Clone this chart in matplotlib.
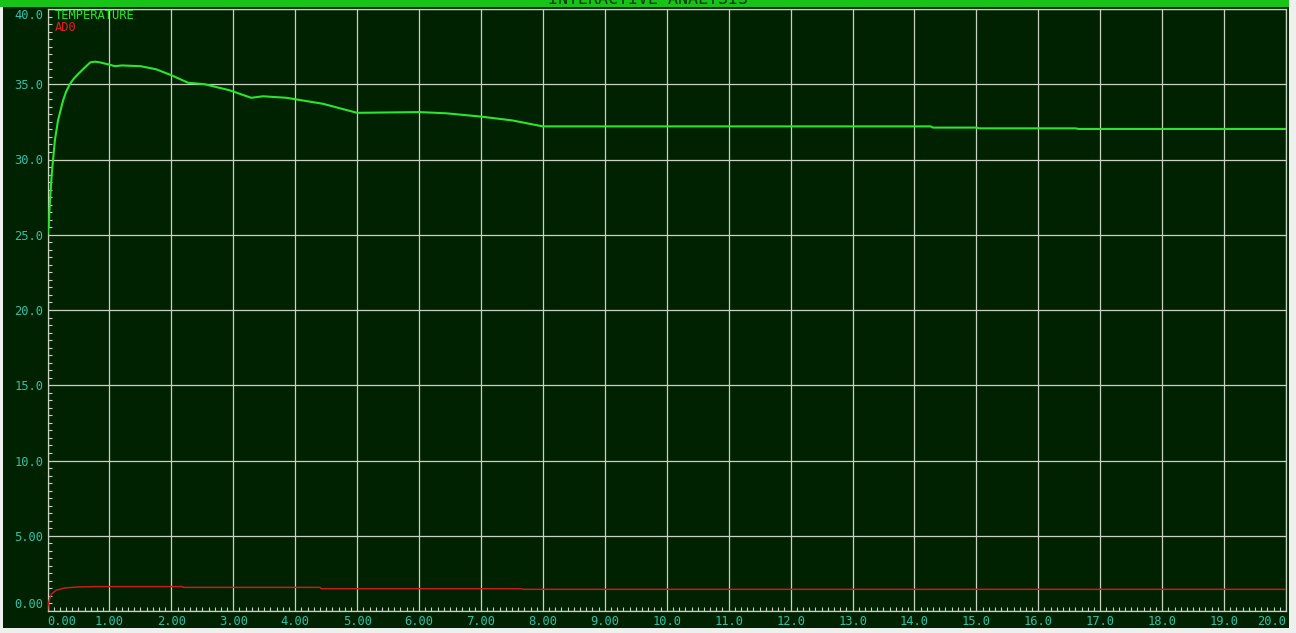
import matplotlib
matplotlib.use("Agg")
import matplotlib.pyplot as plt
from matplotlib.patches import Rectangle
from matplotlib.ticker import MultipleLocator, FixedLocator

# ---- data ----
temp_t = [0.0, 0.02, 0.04, 0.07, 0.12, 0.17, 0.25, 0.3, 0.36, 0.42, 0.5, 0.6, 0.69, 0.77, 0.85,
          1.0, 1.09, 1.2, 1.5, 1.75, 2.0, 2.27, 2.54, 2.94, 3.29, 3.48, 3.86, 4.45,
          5.0, 6.0, 6.44, 7.0, 7.5, 8.0, 14.26, 14.3, 15.0, 15.05, 16.6, 16.65, 20.0]
temp_v = [25.0, 25.6, 27.3, 29.1, 31.3, 32.6, 33.9, 34.5, 35.0, 35.35, 35.7, 36.1, 36.45, 36.5, 36.45,
          36.3, 36.2, 36.25, 36.2, 36.0, 35.6, 35.1, 35.0, 34.6, 34.1, 34.2, 34.1, 33.7,
          33.1, 33.15, 33.07, 32.85, 32.6, 32.2, 32.2, 32.12, 32.12, 32.07, 32.07, 32.03, 32.03]

ad0_t = [0.0, 0.01, 0.04, 0.07, 0.14, 0.28, 0.5, 0.8, 2.17, 2.2, 4.4, 4.42, 7.65, 7.68, 20.0]
ad0_v = [0.0, 0.4, 0.9, 1.15, 1.38, 1.53, 1.6, 1.62, 1.62, 1.57, 1.57, 1.48, 1.48, 1.44, 1.44]

x_ticks = list(range(0, 21))
x_labels = ["0.00", "1.00", "2.00", "3.00", "4.00", "5.00", "6.00", "7.00", "8.00", "9.00",
            "10.0", "11.0", "12.0", "13.0", "14.0", "15.0", "16.0", "17.0", "18.0", "19.0", "20.0"]
y_ticks = [0, 5, 10, 15, 20, 25, 30, 35, 40]
y_labels = ["0.00", "5.00", "10.0", "15.0", "20.0", "25.0", "30.0", "35.0", "40.0"]

series_names = ["TEMPERATURE", "AD0"]
title = "INTERACTIVE ANALYSIS"

# ---- styling ----
W, H = 1296, 633
BG = "#012201"
GRID = "#c9d2c2"
LABEL = "#36bfa8"
GREEN = "#2ee42e"
RED = "#c81c1c"
MONO = "DejaVu Sans Mono"

fig = plt.figure(figsize=(W / 100, H / 100), dpi=100)
fig.patch.set_facecolor("#eef0ee")

# dark panel
fig.add_artist(Rectangle((3 / W, (H - 628) / H), (1289 - 3) / W, (628 - 7) / H,
                         transform=fig.transFigure, facecolor=BG, edgecolor="none", zorder=0))
# green title bar
fig.add_artist(Rectangle((0, (H - 7) / H), 1289 / W, 7 / H,
                         transform=fig.transFigure, facecolor="#16c316", edgecolor="none", zorder=0))
fig.text(648 / W, 1.0 + 1.5 / H, title, ha="center", va="center",
         fontsize=12, family=MONO, color="#083808", zorder=1)

left, right, top, bottom = 47.5, 1286, 9, 611
ax = fig.add_axes([left / W, (H - bottom) / H, (right - left) / W, (bottom - top) / H])
ax.set_facecolor(BG)

ax.plot(temp_t, temp_v, color=GREEN, lw=1.5, zorder=3)
ax.plot(ad0_t, ad0_v, color=RED, lw=1.1, zorder=3)

ax.set_xlim(0, 20)
ax.set_ylim(0, 40)

ax.xaxis.set_major_locator(FixedLocator(x_ticks))
ax.yaxis.set_major_locator(FixedLocator(y_ticks))
ax.set_xticklabels(x_labels)
ax.set_yticklabels(y_labels)
ax.xaxis.set_minor_locator(MultipleLocator(0.1))
ax.yaxis.set_minor_locator(MultipleLocator(0.5))

ax.grid(True, which="major", color=GRID, lw=0.9, zorder=1)
ax.tick_params(which="major", length=0, pad=3, labelsize=8.7, labelcolor=LABEL)
ax.tick_params(which="minor", direction="in", length=3.2, width=0.8, color=GRID)
for lab in ax.get_xticklabels() + ax.get_yticklabels():
    lab.set_family(MONO)
xl = ax.get_xticklabels()
xl[0].set_ha("left")
xl[-1].set_ha("right")
yl = ax.get_yticklabels()
yl[0].set_va("bottom")
yl[-1].set_va("top")

for s in ax.spines.values():
    s.set_color(GRID)
    s.set_linewidth(0.9)

fig.text(55 / W, 1 - 15.7 / H, series_names[0], ha="left", va="center",
         fontsize=8.7, family=MONO, color=GREEN)
fig.text(55 / W, 1 - 27.3 / H, series_names[1], ha="left", va="center",
         fontsize=8.7, family=MONO, color="#e02020")

fig.savefig("out.png", dpi=100, facecolor=fig.get_facecolor())
